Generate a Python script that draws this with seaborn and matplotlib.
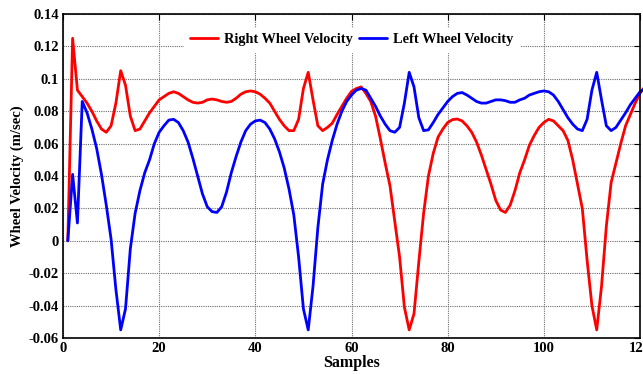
import numpy as np
import pandas as pd
import matplotlib
matplotlib.use("Agg")
import matplotlib.pyplot as plt
import seaborn as sns

samples = list(range(1, 122))

right_velocity = [
    0.0, 0.125, 0.093, 0.089, 0.085, 0.080, 0.074, 0.069, 0.067, 0.071,
    0.085, 0.105, 0.096, 0.077, 0.068, 0.069, 0.074, 0.079, 0.083, 0.087,
    0.089, 0.091, 0.092, 0.091, 0.089, 0.087, 0.0855, 0.085, 0.0855, 0.087,
    0.0875, 0.087, 0.086, 0.0855, 0.086, 0.088, 0.0905, 0.092, 0.0925, 0.092,
    0.0905, 0.088, 0.085, 0.080, 0.075, 0.071, 0.068, 0.068, 0.075, 0.094,
    0.104, 0.087, 0.071, 0.068, 0.070, 0.0726, 0.078, 0.083, 0.088, 0.0922,
    0.094, 0.095, 0.091, 0.086, 0.077, 0.063, 0.048, 0.034, 0.012, -0.010,
    -0.041, -0.055, -0.045, -0.013, 0.017, 0.040, 0.054, 0.064, 0.069, 0.073,
    0.0748, 0.0752, 0.074, 0.071, 0.067, 0.061, 0.053, 0.044, 0.035, 0.025,
    0.019, 0.0175, 0.022, 0.031, 0.042, 0.050, 0.059, 0.065, 0.070, 0.073,
    0.075, 0.074, 0.071, 0.068, 0.062, 0.050, 0.035, 0.020, -0.012, -0.040,
    -0.055, -0.028, 0.009, 0.036, 0.048, 0.060, 0.071, 0.078, 0.085, 0.091,
    0.095,
]

left_velocity = [
    0.0, 0.041, 0.011, 0.086, 0.079, 0.069, 0.057, 0.041, 0.022, 0.001,
    -0.030, -0.055, -0.042, -0.005, 0.017, 0.031, 0.042, 0.050, 0.060, 0.067,
    0.071, 0.0745, 0.075, 0.073, 0.068, 0.061, 0.051, 0.040, 0.029, 0.021,
    0.018, 0.0175, 0.021, 0.030, 0.042, 0.052, 0.061, 0.068, 0.072, 0.074,
    0.0745, 0.073, 0.069, 0.063, 0.055, 0.045, 0.032, 0.016, -0.010, -0.042,
    -0.055, -0.028, 0.008, 0.035, 0.050, 0.062, 0.072, 0.080, 0.086, 0.090,
    0.093, 0.094, 0.093, 0.088, 0.083, 0.077, 0.072, 0.068, 0.067, 0.070,
    0.085, 0.104, 0.095, 0.076, 0.068, 0.0685, 0.073, 0.078, 0.082, 0.086,
    0.089, 0.091, 0.0915, 0.090, 0.088, 0.086, 0.085, 0.085, 0.086, 0.087,
    0.087, 0.0865, 0.0855, 0.0855, 0.087, 0.088, 0.090, 0.091, 0.092, 0.0925,
    0.092, 0.090, 0.086, 0.081, 0.076, 0.072, 0.069, 0.068, 0.075, 0.093,
    0.104, 0.087, 0.071, 0.068, 0.070, 0.0745, 0.079, 0.084, 0.088, 0.092,
    0.094,
]

x_ticks = [0, 20, 40, 60, 80, 100, 120]
y_ticks = [-0.06, -0.04, -0.02, 0, 0.02, 0.04, 0.06, 0.08, 0.1, 0.12, 0.14]
y_tick_labels = ["-0.06", "-0.04", "-0.02", "0", "0.02", "0.04", "0.06",
                 "0.08", "0.1", "0.12", "0.14"]

sns.set_style("white")
plt.rcParams["font.family"] = ["Liberation Serif", "DejaVu Serif"]
plt.rcParams["font.weight"] = "bold"
plt.rcParams["text.color"] = "black"
plt.rcParams["axes.labelcolor"] = "black"
plt.rcParams["xtick.color"] = "black"
plt.rcParams["ytick.color"] = "black"

fig = plt.figure(figsize=(6.43, 3.74), dpi=100)
W, H = 643, 374
ax = fig.add_axes([63 / W, (H - 338) / H, (640 - 63) / W, (338 - 14) / H])

df = pd.DataFrame({
    "Samples": samples * 2,
    "Velocity": right_velocity + left_velocity,
    "Series": ["Right Wheel Velocity"] * len(samples) + ["Left Wheel Velocity"] * len(samples),
})

sns.lineplot(data=df, x="Samples", y="Velocity", hue="Series",
             palette={"Right Wheel Velocity": "#ff0000", "Left Wheel Velocity": "#0000ff"},
             linewidth=2.0, ax=ax, clip_on=False, sort=False)

ax.set_xlim(0, 120)
ax.set_ylim(-0.06, 0.14)
ax.set_xticks(x_ticks)
ax.set_xticklabels([str(t) for t in x_ticks])
ax.set_yticks(y_ticks)
ax.set_yticklabels(y_tick_labels)

ax.grid(True, color="#6e6e6e", linestyle=(0, (1, 1)), linewidth=0.8)
for s in ax.spines.values():
    s.set_visible(True)
    s.set_color("black")
    s.set_linewidth(1.2)

ax.tick_params(direction="in", length=4, width=0.8, top=True, right=True,
               labelsize=10.5, pad=3, colors="black")
for lbl in ax.get_xticklabels() + ax.get_yticklabels():
    lbl.set_fontweight("bold")
    lbl.set_color("black")

ax.set_xlabel("Samples", fontsize=11.5, fontweight="bold", labelpad=0, color="black")
ax.set_ylabel("Wheel Velocity (m/sec)", fontsize=10.5, fontweight="bold", labelpad=3,
              color="black")

leg = ax.legend(loc="upper center", bbox_to_anchor=(0.5, 0.98), ncol=2,
                frameon=True, fancybox=False, edgecolor="white", framealpha=1,
                fontsize=10.3, handlelength=2.0, handletextpad=0.4, columnspacing=0.4,
                borderpad=0.4)
for t in leg.get_texts():
    t.set_fontweight("bold")
    t.set_color("black")
for h in leg.get_lines():
    h.set_linewidth(2.0)

fig.savefig("out.png", dpi=100)
